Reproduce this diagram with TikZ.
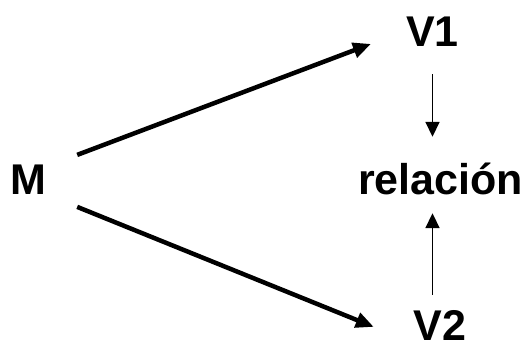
\documentclass[tikz,border=0pt]{standalone}
\usepackage{fontspec}
\setmainfont{Liberation Sans}
\usepackage{tikz}
\usetikzlibrary{arrows.meta}

\begin{document}
\begin{tikzpicture}[x=1pt,y=1pt,
        lbl/.style={inner sep=0pt,anchor=base,text height=31pt,text depth=0pt,font=\fontsize{43}{50}\selectfont\bfseries},
        bigarrow/.style={line width=4.5pt,-{Triangle[length=18pt,width=15pt]}},
        smallarrow/.style={line width=1.8pt,-{Triangle[length=15pt,width=14pt]}}]
        \useasboundingbox (0,0) rectangle (531,344);
        \node[lbl] (m) at (28.5,149) {M};
        \node[lbl] (v1) at (432.5,297) {V1};
        \node[lbl] (rel) at (440.5,149) {relación};
        \node[lbl] (v2) at (440,3) {V2};
        
        \draw[bigarrow] ([shift={(30.6pt,24.6pt)}]m.east) -- ([shift={(-35pt,-12.4pt)}]v1.west);
        \draw[bigarrow] ([shift={(30.6pt,-27.4pt)}]m.east) -- ([shift={(-39.7pt,-1.4pt)}]v2.west);
        \draw[smallarrow,shorten <=15pt,shorten >=18pt] (v1.south |- v2.north) -- (v1.south |- rel.south);
        \draw[smallarrow,shorten <=27pt,shorten >=27pt] (v1.south) -- (v1.south |- rel.north);
    \end{tikzpicture}
\end{document}
